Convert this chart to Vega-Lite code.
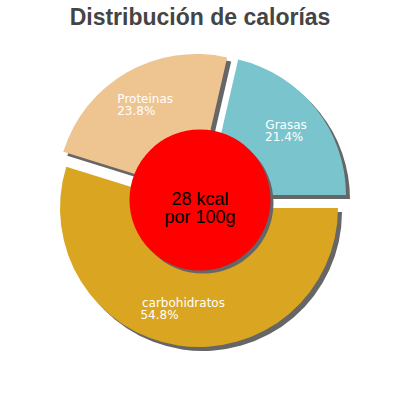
{
  "$schema": "https://vega.github.io/schema/vega-lite/v6.json",
  "width": 400,
  "height": 400,
  "autosize": "none",
  "padding": 0,
  "background": "white",
  "title": {
    "text": "Distribución de calorías",
    "font": "Liberation Sans",
    "fontSize": 23,
    "fontWeight": "bold",
    "color": "#444444",
    "anchor": "middle",
    "offset": -30
  },
  "data": {
    "values": [
      {"category": "carbohidratos", "value": 0.548},
      {"category": "Proteinas", "value": 0.238},
      {"category": "Grasas", "value": 0.214}
    ]
  },
  "layer": [
    {
      "transform": [
        {"stack": "value", "groupby": [], "sort": [{"field": "category", "order": "descending"}], "as": ["v0", "v1"]},
        {"filter": "datum.category === 'carbohidratos'"}
      ],
      "mark": {"type": "arc", "outerRadius": 139, "color": "#666666", "xOffset": 3, "yOffset": 12},
      "encoding": {
        "theta": {"field": "v0", "type": "quantitative", "scale": {"domain": [0, 1], "range": [1.5708, 7.854]}},
        "theta2": {"field": "v1"}
      }
    },
    {
      "transform": [
        {"stack": "value", "groupby": [], "sort": [{"field": "category", "order": "descending"}], "as": ["v0", "v1"]},
        {"filter": "datum.category === 'Proteinas'"}
      ],
      "mark": {"type": "arc", "outerRadius": 139, "color": "#666666", "xOffset": 0, "yOffset": -3},
      "encoding": {
        "theta": {"field": "v0", "type": "quantitative"},
        "theta2": {"field": "v1"}
      }
    },
    {
      "transform": [
        {"stack": "value", "groupby": [], "sort": [{"field": "category", "order": "descending"}], "as": ["v0", "v1"]},
        {"filter": "datum.category === 'Grasas'"}
      ],
      "mark": {"type": "arc", "outerRadius": 139, "color": "#666666", "xOffset": 11, "yOffset": -1},
      "encoding": {
        "theta": {"field": "v0", "type": "quantitative"},
        "theta2": {"field": "v1"}
      }
    },
    {
      "transform": [
        {"stack": "value", "groupby": [], "sort": [{"field": "category", "order": "descending"}], "as": ["v0", "v1"]},
        {"filter": "datum.category === 'carbohidratos'"}
      ],
      "mark": {"type": "arc", "outerRadius": 139, "xOffset": -1, "yOffset": 8},
      "encoding": {
        "theta": {"field": "v0", "type": "quantitative"},
        "theta2": {"field": "v1"},
        "color": {
          "field": "category",
          "type": "nominal",
          "scale": {"domain": ["carbohidratos", "Proteinas", "Grasas"], "range": ["#DAA520", "#EEC591", "#7AC5CD"]},
          "legend": null
        }
      }
    },
    {
      "transform": [
        {"stack": "value", "groupby": [], "sort": [{"field": "category", "order": "descending"}], "as": ["v0", "v1"]},
        {"filter": "datum.category === 'Proteinas'"}
      ],
      "mark": {"type": "arc", "outerRadius": 139, "xOffset": -4, "yOffset": -7},
      "encoding": {
        "theta": {"field": "v0", "type": "quantitative"},
        "theta2": {"field": "v1"},
        "color": {"field": "category", "type": "nominal", "legend": null}
      }
    },
    {
      "transform": [
        {"stack": "value", "groupby": [], "sort": [{"field": "category", "order": "descending"}], "as": ["v0", "v1"]},
        {"filter": "datum.category === 'Grasas'"}
      ],
      "mark": {"type": "arc", "outerRadius": 139, "xOffset": 7, "yOffset": -5},
      "encoding": {
        "theta": {"field": "v0", "type": "quantitative"},
        "theta2": {"field": "v1"},
        "color": {"field": "category", "type": "nominal", "legend": null}
      }
    },
    {
      "mark": {"type": "text", "radius": 110, "dy": -6, "align": "center", "baseline": "middle", "font": "DejaVu Sans", "fontSize": 12, "color": "white"},
      "encoding": {
        "theta": {"field": "value", "type": "quantitative", "stack": true},
        "order": {"field": "category", "sort": "descending"},
        "text": {"field": "category"}
      }
    },
    {
      "mark": {"type": "text", "radius": 110, "dy": 6, "dx": -43, "align": "left", "baseline": "middle", "font": "DejaVu Sans", "fontSize": 12, "color": "white"},
      "encoding": {
        "theta": {"field": "value", "type": "quantitative", "stack": true},
        "order": {"field": "category", "sort": "descending"},
        "text": {"condition": {"test": "datum.category === 'carbohidratos'", "field": "value", "type": "quantitative", "format": ".1%"}, "value": ""}
      }
    },
    {
      "mark": {"type": "text", "radius": 110, "dy": 6, "dx": -28, "align": "left", "baseline": "middle", "font": "DejaVu Sans", "fontSize": 12, "color": "white"},
      "encoding": {
        "theta": {"field": "value", "type": "quantitative", "stack": true},
        "order": {"field": "category", "sort": "descending"},
        "text": {"condition": {"test": "datum.category === 'Proteinas'", "field": "value", "type": "quantitative", "format": ".1%"}, "value": ""}
      }
    },
    {
      "mark": {"type": "text", "radius": 110, "dy": 6, "dx": -21, "align": "left", "baseline": "middle", "font": "DejaVu Sans", "fontSize": 12, "color": "white"},
      "encoding": {
        "theta": {"field": "value", "type": "quantitative", "stack": true},
        "order": {"field": "category", "sort": "descending"},
        "text": {"condition": {"test": "datum.category === 'Grasas'", "field": "value", "type": "quantitative", "format": ".1%"}, "value": ""}
      }
    },
    {
      "data": {"values": [{"label": "28 kcal\npor 100g"}]},
      "layer": [
        {
          "mark": {"type": "point", "shape": "circle", "filled": true, "size": 19881, "color": "#666666", "opacity": 1, "strokeWidth": 0, "xOffset": 3, "yOffset": 3},
          "encoding": {}
        },
        {
          "mark": {"type": "point", "shape": "circle", "filled": true, "size": 19881, "color": "#FF0000", "opacity": 1, "strokeWidth": 0},
          "encoding": {}
        },
        {
          "mark": {"type": "text", "lineBreak": "\n", "lineHeight": 18, "align": "center", "baseline": "middle", "font": "Liberation Sans", "fontSize": 18, "color": "black"},
          "encoding": {"text": {"field": "label"}}
        }
      ]
    }
  ]
}
